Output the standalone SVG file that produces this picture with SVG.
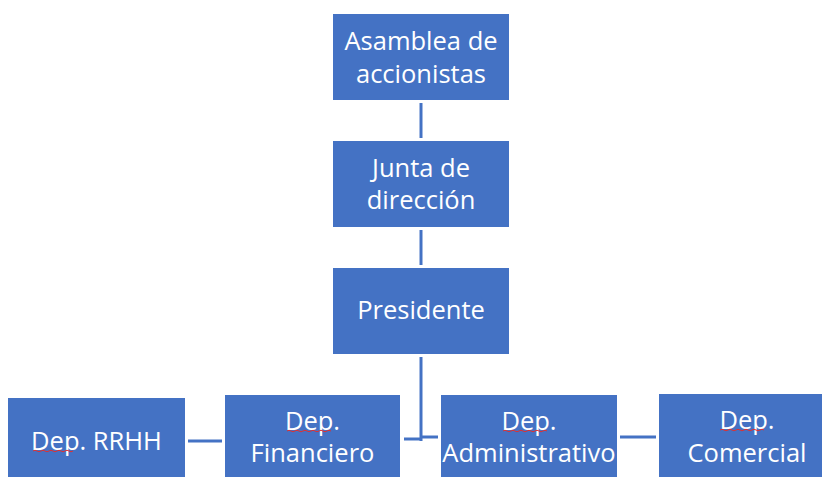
<svg xmlns="http://www.w3.org/2000/svg" width="822" height="477" viewBox="0 0 822 477">
<style>
.box{fill:#4472C4;}
.t{font-family:"Open Sans","Liberation Sans",sans-serif;font-size:25.5px;fill:#FFFFFF;text-anchor:middle;}
.c{stroke:#4472C4;stroke-width:3;fill:none;}
.sq{stroke:#E03030;stroke-width:1;fill:none;}
</style>
<rect width="822" height="477" fill="#FFFFFF"/>
<g id="connectors">
<line class="c" x1="421" y1="103" x2="421" y2="138"/>
<line class="c" x1="421" y1="230" x2="421" y2="265"/>
<line class="c" x1="421" y1="357" x2="421" y2="441"/>
<line class="c" x1="404" y1="439" x2="421" y2="439"/>
<line class="c" x1="421" y1="437" x2="438" y2="437"/>
<line class="c" x1="188" y1="441" x2="222" y2="441"/>
<line class="c" x1="620" y1="437" x2="656" y2="437"/>
</g>
<g id="asamblea">
<rect class="box" x="333" y="14" width="176" height="86"/>
<text class="t" x="421" y="50">Asamblea de</text>
<text class="t" x="421" y="83">accionistas</text>
</g>
<g id="junta">
<rect class="box" x="333" y="141" width="176" height="86"/>
<text class="t" x="421" y="177">Junta de</text>
<text class="t" x="421" y="209">dirección</text>
</g>
<g id="presidente">
<rect class="box" x="333" y="268" width="176" height="86"/>
<text class="t" x="421" y="319">Presidente</text>
</g>
<g id="rrhh">
<rect class="box" x="8" y="398" width="177" height="86"/>
<text class="t" x="96.5" y="450">Dep. RRHH</text>
<path class="sq" d="M33 451 q2 -1.5 4 0 t4 0 t4 0 t4 0 t4 0 t4 0 t4 0 t4 0 t4 0 t4 0"/>
</g>
<g id="financiero">
<rect class="box" x="225" y="395" width="175" height="86"/>
<text class="t" x="312.5" y="430">Dep.</text>
<text class="t" x="312.5" y="462">Financiero</text>
<path class="sq" d="M287 431 q2 -1.5 4 0 t4 0 t4 0 t4 0 t4 0 t4 0 t4 0 t4 0 t4 0 t4 0 t4 0"/>
</g>
<g id="administrativo">
<rect class="box" x="441" y="395" width="176" height="86"/>
<text class="t" x="529" y="430">Dep.</text>
<text class="t" x="529" y="462">Administrativo</text>
<path class="sq" d="M503 431 q2 -1.5 4 0 t4 0 t4 0 t4 0 t4 0 t4 0 t4 0 t4 0 t4 0 t4 0 t4 0"/>
</g>
<g id="comercial">
<rect class="box" x="659" y="394" width="176" height="86"/>
<text class="t" x="747" y="429">Dep.</text>
<text class="t" x="747" y="462">Comercial</text>
<path class="sq" d="M720 430 q2 -1.5 4 0 t4 0 t4 0 t4 0 t4 0 t4 0 t4 0 t4 0 t4 0 t4 0 t4 0"/>
</g>
</svg>
